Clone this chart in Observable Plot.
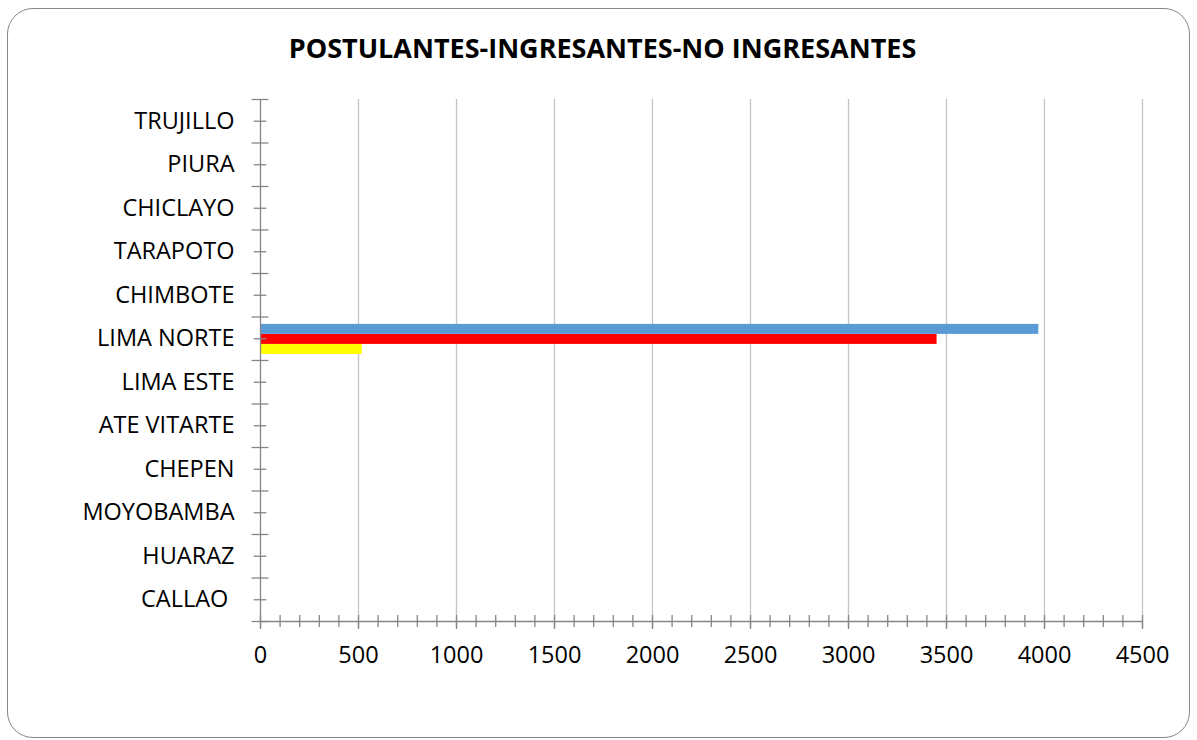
<!DOCTYPE html>
<html>
<head>
<meta charset="utf-8">
<script src="https://cdn.jsdelivr.net/npm/d3@7"></script>
<script src="https://cdn.jsdelivr.net/npm/@observablehq/plot@0.6"></script>
<style>
  html, body { margin: 0; padding: 0; background: #fff; }
  #wrap { position: relative; width: 1197px; height: 740px; overflow: hidden; font-family: "Open Sans", sans-serif; }
  #frame { position: absolute; left: 7px; top: 8px; width: 1183px; height: 730px; box-sizing: border-box;
           border: 1px solid #868686; border-radius: 26px; }
  #title { position: absolute; left: 8px; top: 29px; width: 1189px; text-align: center;
           font-family: "Open Sans", sans-serif; font-weight: 700; font-size: 27px; color: #000; line-height: normal; }
  #chart { position: absolute; left: 0; top: 0; }
</style>
</head>
<body>
<div id="wrap">
  <div id="frame"></div>
  <div id="title">POSTULANTES-INGRESANTES-NO INGRESANTES</div>
  <div id="chart"></div>
</div>
<script>
// Categories, listed from bottom (first) to top (last), as in the source chart
const regions = ["CALLAO\u00A0", "HUARAZ", "MOYOBAMBA", "CHEPEN", "ATE VITARTE", "LIMA ESTE",
                 "LIMA NORTE", "CHIMBOTE", "TARAPOTO", "CHICLAYO", "PIURA", "TRUJILLO"];
// Series values per region
const postulantes   = [0, 0, 0, 0, 0, 0, 3971, 0, 0, 0, 0, 0];
const noIngresantes = [0, 0, 0, 0, 0, 0, 3452, 0, 0, 0, 0, 0];
const ingresantes   = [0, 0, 0, 0, 0, 0, 519, 0, 0, 0, 0, 0];
// X axis tick labels
const xTickLabels = [0, 500, 1000, 1500, 2000, 2500, 3000, 3500, 4000, 4500];

const rows = regions.map((region, i) => ({
  region, idx: i,
  postulantes: postulantes[i],
  noIngresantes: noIngresantes[i],
  ingresantes: ingresantes[i]
}));

const axisGray = "#868686";
const majorY = d3.range(0, regions.length + 1);
const centerY = d3.range(0, regions.length).map(i => i + 0.5);
const minorX = d3.range(0, 4501, 100);

const chart = Plot.plot({
  width: 1197,
  height: 740,
  marginLeft: 260,
  marginRight: 55,
  marginTop: 99,
  marginBottom: 119,
  style: { fontFamily: "Open Sans, sans-serif", color: "#000", background: "transparent" },
  x: { domain: [0, 4500], label: null },
  y: { domain: [0, regions.length], label: null },
  marks: [
    Plot.gridX(xTickLabels.filter(d => d > 0), { stroke: "#c4c4c4", strokeOpacity: 1, strokeWidth: 1.3 }),
    // bars
    Plot.rectX(rows, { x1: d => 0, x2: d => d.ingresantes, y1: d => d.idx + 0.14, y2: d => d.idx + 0.37, fill: "#ffff00" }),
    Plot.rectX(rows, { x1: d => 0, x2: d => d.noIngresantes, y1: d => d.idx + 0.37, y2: d => d.idx + 0.60, fill: "#ff0000" }),
    Plot.rectX(rows, { x1: d => 0, x2: d => d.postulantes, y1: d => d.idx + 0.60, y2: d => d.idx + 0.83, fill: "#5b9bd5" }),
    // axis lines
    Plot.ruleX([0], { y1: 0, y2: regions.length, stroke: axisGray, strokeWidth: 1.3 }),
    Plot.ruleY([0], { x1: 0, x2: 4500, stroke: axisGray, strokeWidth: 1.3 }),
    // y ticks: major at band boundaries, minor at centres (crossing the axis)
    Plot.axisY({ ticks: majorY, tickSize: 17, dx: 8.5, text: null, stroke: axisGray, strokeWidth: 1.3 }),
    Plot.axisY({ ticks: centerY, tickSize: 12.6, dx: 6.3, text: null, stroke: axisGray, strokeWidth: 1.3 }),
    Plot.axisY({ ticks: centerY, tickSize: 0, tickPadding: 26, fontSize: 23.5,
                 tickFormat: d => regions[Math.floor(d)] }),
    // x ticks
    Plot.axisX({ ticks: minorX, tickSize: 12, dy: -6, text: null, stroke: axisGray, strokeWidth: 1.3 }),
    Plot.axisX({ ticks: xTickLabels, tickSize: 8, text: null, stroke: axisGray, strokeWidth: 1.3 }),
    Plot.axisX({ ticks: xTickLabels, tickSize: 0, tickPadding: 25, fontSize: 23.5, tickFormat: d => String(d) })
  ]
});
document.getElementById("chart").appendChild(chart);
</script>
</body>
</html>
